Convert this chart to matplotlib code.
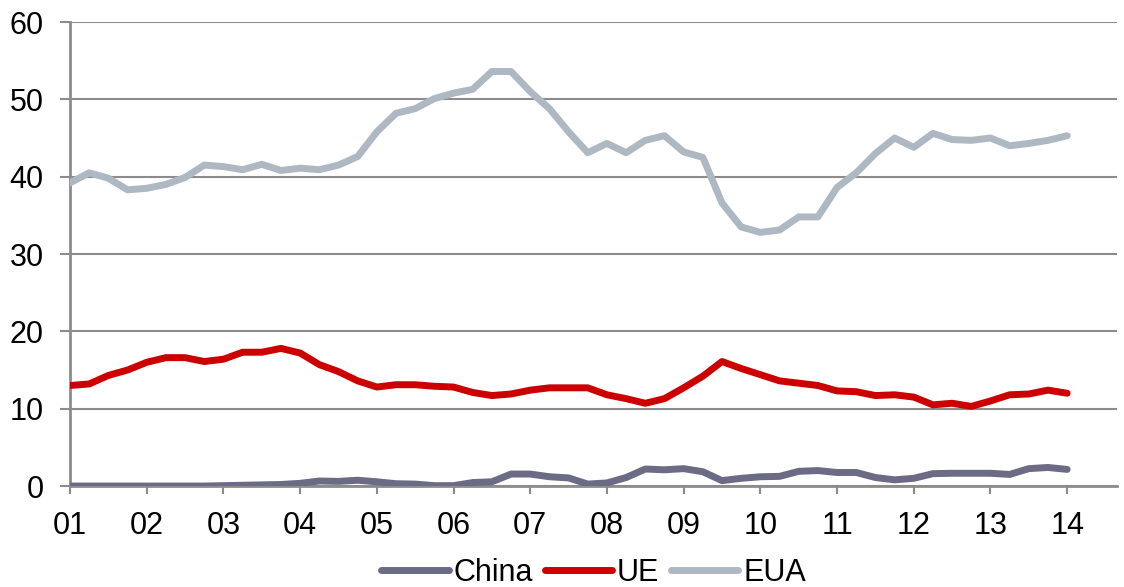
import numpy as np
import matplotlib.pyplot as plt

plt.rcParams['font.family'] = ['Liberation Sans', 'DejaVu Sans']

# Quarterly series, 2001Q1 .. 2014Q1
start_year = 2001
year_labels = ['01', '02', '03', '04', '05', '06', '07',
               '08', '09', '10', '11', '12', '13', '14']

china = [0.0, 0.0, 0.0, 0.0, 0.0, 0.0, 0.0, 0.0, 0.05, 0.1,
         0.15, 0.2, 0.35, 0.65, 0.6, 0.75, 0.55, 0.3, 0.25, 0.05,
         0.05, 0.45, 0.55, 1.55, 1.55, 1.2, 1.05, 0.25, 0.4, 1.1,
         2.2, 2.1, 2.25, 1.85, 0.7, 1.0, 1.2, 1.25, 1.9, 2.0,
         1.75, 1.75, 1.1, 0.8, 1.0, 1.6, 1.65, 1.65, 1.65, 1.5,
         2.25, 2.4, 2.15]

ue = [13.0, 13.2, 14.3, 15.0, 16.0, 16.6, 16.6, 16.1, 16.4, 17.3,
      17.3, 17.8, 17.2, 15.7, 14.8, 13.6, 12.8, 13.1, 13.1, 12.9,
      12.8, 12.1, 11.7, 11.9, 12.4, 12.7, 12.7, 12.7, 11.8, 11.3,
      10.7, 11.3, 12.7, 14.2, 16.1, 15.2, 14.4, 13.6, 13.3, 13.0,
      12.3, 12.2, 11.7, 11.8, 11.5, 10.5, 10.7, 10.3, 11.0, 11.8,
      11.9, 12.4, 12.0]

eua = [39.2, 40.5, 39.8, 38.3, 38.5, 39.0, 39.9, 41.5, 41.3, 40.9,
       41.6, 40.8, 41.1, 40.9, 41.5, 42.6, 45.8, 48.2, 48.8, 50.1,
       50.8, 51.3, 53.6, 53.6, 51.0, 48.8, 45.8, 43.1, 44.3, 43.1,
       44.7, 45.3, 43.2, 42.5, 36.6, 33.5, 32.8, 33.1, 34.8, 34.8,
       38.6, 40.5, 43.0, 45.0, 43.8, 45.6, 44.8, 44.7, 45.0, 44.0,
       44.3, 44.7, 45.3]

x = start_year + np.arange(len(eua)) * 0.25
grid_color = '#8c8c8c'
lw = 5

fig = plt.figure(figsize=(11.24, 5.87), dpi=100)
ax = fig.add_axes([0.0623, 0.172, 0.9315, 0.7905])

ax.plot(x, china, color='#6b6b85', linewidth=lw, solid_capstyle='round', label='China', zorder=3)
ax.plot(x, ue, color='#cc0000', linewidth=lw, solid_capstyle='round', label='UE', zorder=3)
ax.plot(x, eua, color='#adb8c2', linewidth=lw, solid_capstyle='round', label='EUA', zorder=3)

ax.set_xlim(start_year, start_year + 13.65)
ax.set_ylim(0, 60)
ax.set_yticks(range(0, 61, 10))
ax.set_xticks(start_year + np.arange(len(year_labels)))
ax.set_xticklabels(year_labels)

ax.yaxis.grid(True, color=grid_color, linewidth=1.5)
ax.set_axisbelow(True)
for side in ['top', 'right']:
    ax.spines[side].set_visible(False)
for side in ['left', 'bottom']:
    ax.spines[side].set_color(grid_color)
    ax.spines[side].set_linewidth(2)

ax.tick_params(axis='x', length=6, width=1.5, color=grid_color, pad=12, labelsize=22)
ax.tick_params(axis='y', length=7, width=1.5, color=grid_color, pad=12, labelsize=22)

leg = ax.legend(loc='upper center', bbox_to_anchor=(0.5, -0.155), ncol=3, frameon=False,
                fontsize=22, handlelength=2.2, handletextpad=0.15, columnspacing=0.4,
                borderaxespad=0, borderpad=0)
for line in leg.get_lines():
    line.set_linewidth(lw)

fig.savefig('out.png', dpi=100)
